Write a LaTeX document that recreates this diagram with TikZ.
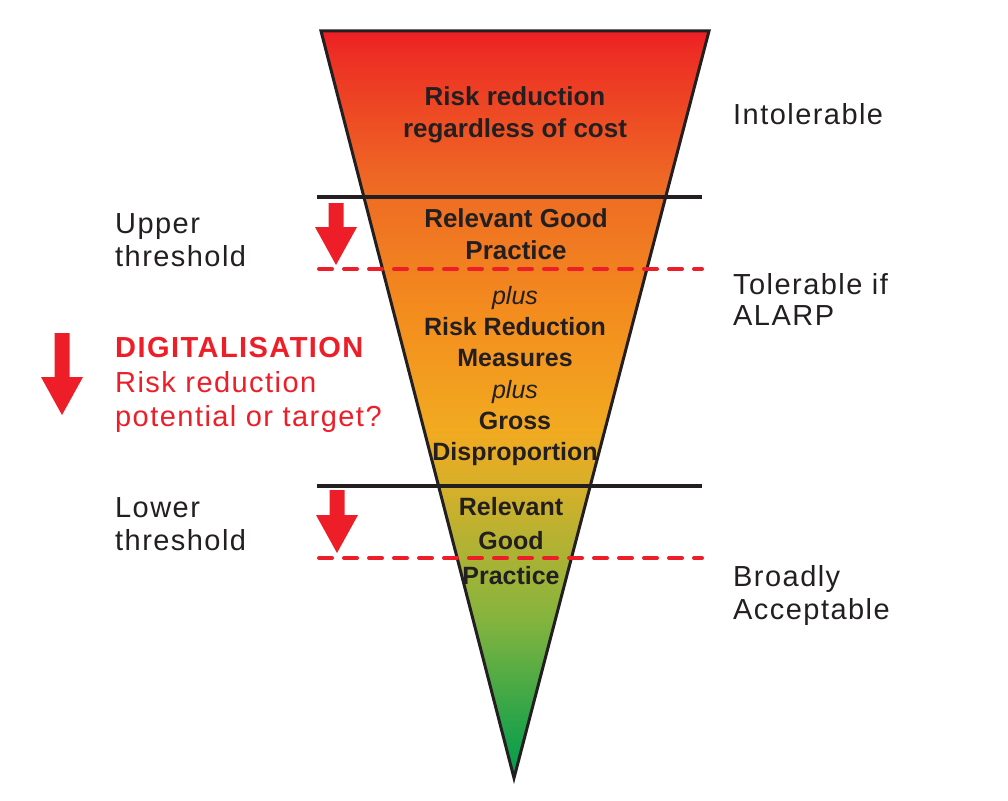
\documentclass[tikz,border=0pt]{standalone}
\usepackage{fontspec}
\setmainfont{Liberation Sans}
\newfontfamily\spacedfont[LetterSpace=5]{Liberation Sans}
\usetikzlibrary{positioning}
\definecolor{riskRed}{RGB}{237,30,40}
\definecolor{txtGray}{RGB}{35,31,32}
\definecolor{fRed}{RGB}{237,30,36}
\definecolor{fRedOr}{RGB}{237,45,36}
\definecolor{fOrange}{RGB}{238,105,36}
\definecolor{fOrangeB}{RGB}{243,140,30}
\definecolor{fAmber}{RGB}{242,170,32}
\definecolor{fOlive}{RGB}{212,176,42}
\definecolor{fLime}{RGB}{132,180,62}
\definecolor{fGreenA}{RGB}{35,163,74}
\definecolor{fGreen}{RGB}{0,155,75}
\pgfdeclareverticalshading{funnel}{100bp}{color(0bp)=(fGreen); color(25bp)=(fGreen);
  color(28.2bp)=(fGreenA); color(35.6bp)=(fLime); color(44.3bp)=(fOlive);
  color(48.3bp)=(fAmber); color(56.3bp)=(fOrangeB); color(65bp)=(fOrange);
  color(73.7bp)=(fRedOr); color(75bp)=(fRed); color(100bp)=(fRed)}
\tikzset{
    funnel text/.style={font=\bfseries\fontsize{26}{32}\selectfont, align=center, text=txtGray},
    side label/.style={font=\spacedfont\fontsize{29}{33}\selectfont, align=left, anchor=west,
        inner xsep=0pt, text=txtGray},
    red label/.style={side label, text=riskRed},
    thr line/.style={line width=3.6pt, txtGray},
    alarp line/.style={line width=4pt, riskRed, dash pattern=on 13pt off 12pt, line cap=round},
    pics/down arrow/.style={code={
        \fill[riskRed] (-7.5,0) -- (7.5,0) -- (7.5,#1) -- (21,#1) -- (0,{#1+38}) -- (-21,#1) -- (-7.5,#1) -- cycle;}}
}

\begin{document}
\begin{tikzpicture}[x=1pt,y=-1pt]
\useasboundingbox (0,0) rectangle (1008,800);
% funnel
\coordinate (tl) at (321,31);
\coordinate (tr) at (709,31);
\coordinate (tip) at (514,778);
\shade[shading=funnel] (tl) -- (tr) -- (tip) -- cycle;
\draw[line width=3pt, txtGray, line join=miter] (tl) -- (tr) -- (tip) -- cycle;
% thresholds
\coordinate (upL) at (317,197);  \coordinate (upR) at (702,197);
\coordinate (updL) at (319,269); \coordinate (updR) at (702,269);
\coordinate (loL) at (317,486);  \coordinate (loR) at (702,486);
\coordinate (lodL) at (319,558); \coordinate (lodR) at (702,558);
\draw[thr line] (upL) -- (upR);
\draw[thr line] (loL) -- (loR);
\draw[alarp line] (updL) -- (updR);
\draw[alarp line] (lodL) -- (lodR);
% arrows
\pic at (336,203) {down arrow=24};
\pic at (337,490) {down arrow=25};
\pic at (62,333) {down arrow=44};
% funnel texts
\node[funnel text] (regardless) at (515,115) {Risk reduction\\regardless of cost};
\node[funnel text] (rgpUpper) at (516,234) {Relevant Good\\Practice};
\node[funnel text, font=\bfseries\fontsize{25}{31.2}\selectfont] (alarp) at (515,376)
    {\textmd{\textit{plus}}\\Risk Reduction\\Measures\\\textmd{\textit{plus}}\\Gross\\Disproportion};
\node[funnel text, font=\bfseries\fontsize{25}{34.5}\selectfont] (rgpLower) at (511,541) {Relevant\\Good\\Practice};
% right labels
\node[side label] (intol) at (733,114) {Intolerable};
\node[side label, font=\spacedfont\fontsize{29}{31}\selectfont] (tol) at (733,299) {Tolerable if\\ALARP};
\node[side label] (broad) at (733,595) {Broadly\\Acceptable};
% left labels
\node[side label] (upper) at (115,240) {Upper\\threshold};
\node[side label] (lower) at (115,524) {Lower\\threshold};
\node[red label, font=\spacedfont\fontsize{29}{34.5}\selectfont] (digital) at (115,385)
    {\textbf{DIGITALISATION}\\Risk reduction\\potential or target?};
\end{tikzpicture}
\end{document}
